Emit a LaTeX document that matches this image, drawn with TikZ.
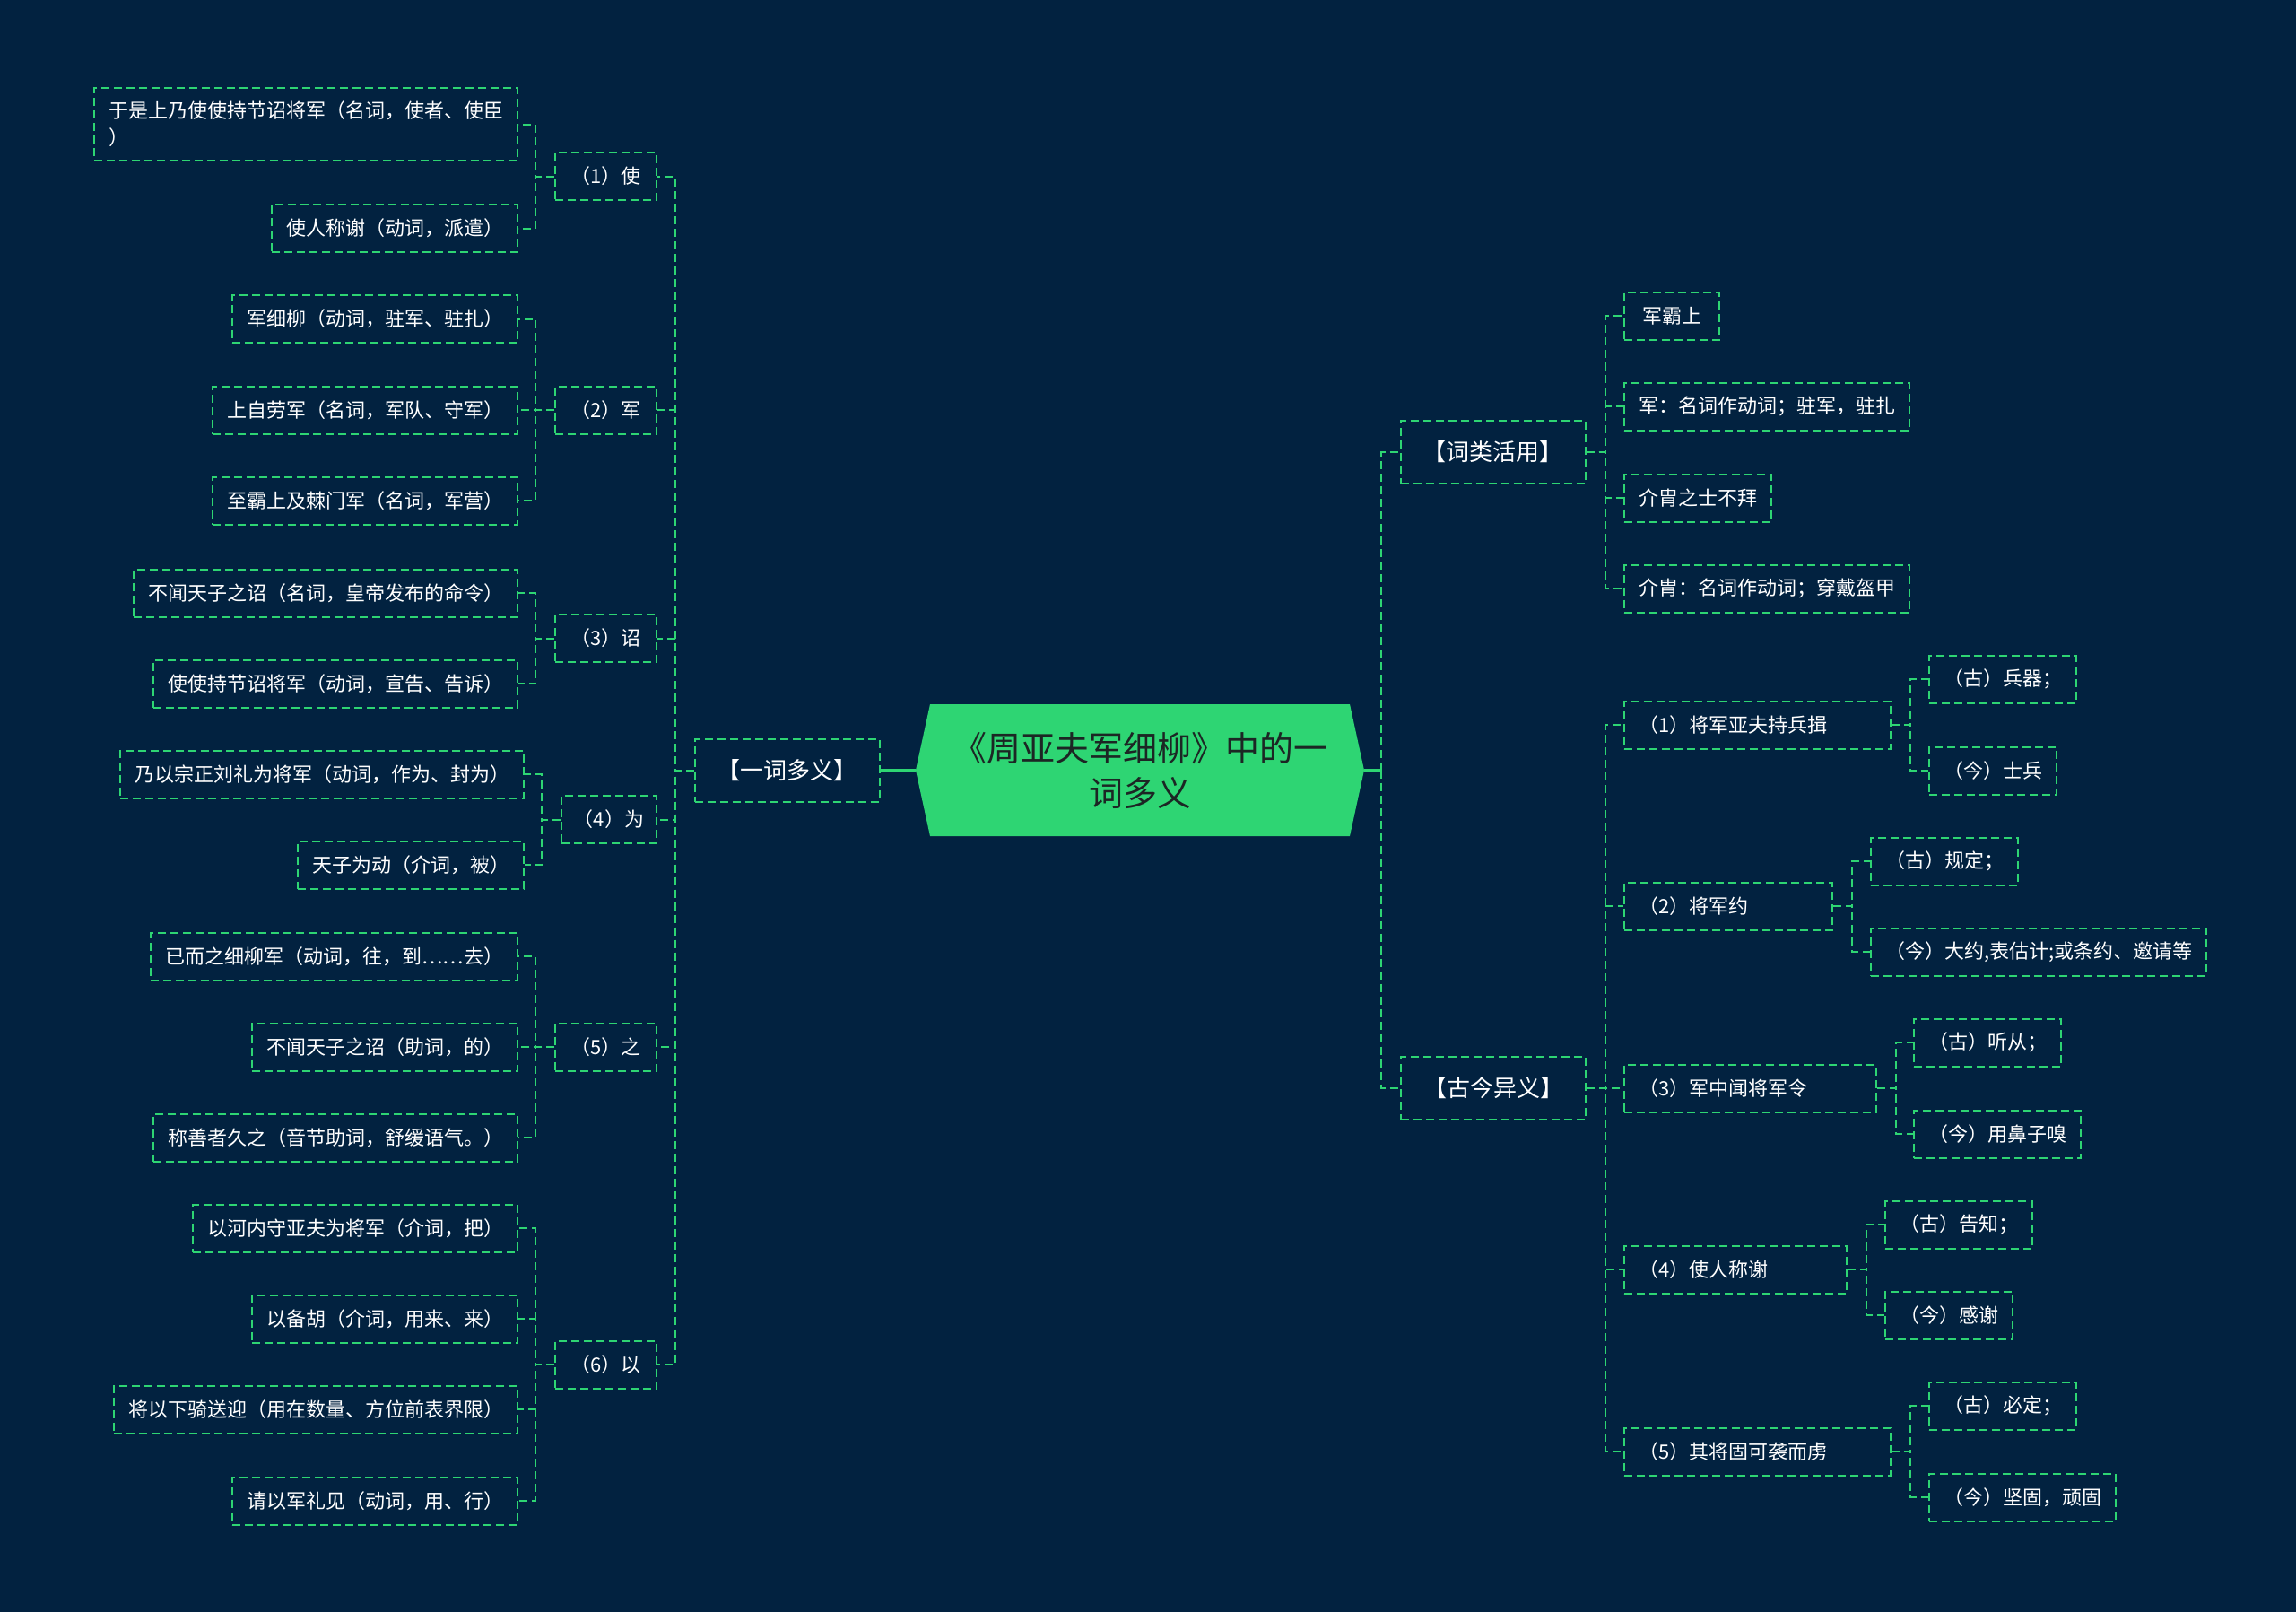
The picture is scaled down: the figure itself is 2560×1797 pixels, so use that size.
\documentclass[tikz,border=0pt]{standalone}
\usepackage{fontspec}
\setmainfont{Noto Sans CJK SC}
\usetikzlibrary{calc}
\definecolor{bg}{RGB}{2,34,64}
\definecolor{lg}{RGB}{46,213,115}
\definecolor{rootfg}{RGB}{28,38,36}
\begin{document}
\begin{tikzpicture}[x=1pt,y=-1pt,
  box/.style={draw=lg, line width=2pt, dash pattern=on 9pt off 5pt, text=white, inner ysep=0pt},
  leaf/.style={box, font=\fontsize{22}{30}\selectfont, inner xsep=16pt, minimum height=53pt},
  mid/.style={box, font=\fontsize{22}{30}\selectfont, inner xsep=12.5pt, minimum height=53pt, minimum width=113pt},
  head/.style={box, font=\fontsize{26}{32}\selectfont, inner xsep=25pt, minimum height=70pt},
  conn/.style={draw=lg, line width=2pt, dash pattern=on 9pt off 5pt},
  rootline/.style={draw=lg, line width=3pt},
]
\fill[bg] (0,0) rectangle (2560,1797);
\useasboundingbox (0,0) rectangle (2560,1797);

% root
\fill[lg] (1021,858.5) -- (1037,785) -- (1505,785) -- (1521,858.5) -- (1505,932) -- (1037,932) -- cycle;
\node[font=\fontsize{38}{50}\selectfont, text=rootfg, align=center, minimum width=500pt, minimum height=147pt, inner sep=0pt] (root) at (1271,858.5) {《周亚夫军细柳》中的一\\词多义};

% ---------- left: 一词多义 ----------
\node[head] (yc) at (877.5,858.5) {【一词多义】};

\node[mid, anchor=east] (m1) at (733,196.5) {（1）使};
\node[mid, anchor=east] (m2) at (733,457) {（2）军};
\node[mid, anchor=east] (m3) at (733,711.5) {（3）诏};
\node[mid, anchor=east, inner xsep=9pt, minimum width=106pt] (m4) at (733,913.5) {（4）为};
\node[mid, anchor=east] (m5) at (733,1167) {（5）之};
\node[mid, anchor=east] (m6) at (733,1521) {（6）以};

\node[leaf, anchor=east, align=left, minimum height=81pt] (l1) at (578,138.5) {于是上乃使使持节诏将军（名词，使者、使臣\\）};
\node[leaf, anchor=east] (l2) at (578,254.5) {使人称谢（动词，派遣）};
\node[leaf, anchor=east] (l3) at (578,355.5) {军细柳（动词，驻军、驻扎）};
\node[leaf, anchor=east] (l4) at (578,457) {上自劳军（名词，军队、守军）};
\node[leaf, anchor=east] (l5) at (578,558) {至霸上及棘门军（名词，军营）};
\node[leaf, anchor=east] (l6) at (578,661) {不闻天子之诏（名词，皇帝发布的命令）};
\node[leaf, anchor=east] (l7) at (578,762) {使使持节诏将军（动词，宣告、告诉）};
\node[leaf, anchor=east] (l8) at (585,863) {乃以宗正刘礼为将军（动词，作为、封为）};
\node[leaf, anchor=east] (l9) at (585,964) {天子为动（介词，被）};
\node[leaf, anchor=east] (l10) at (578,1066) {已而之细柳军（动词，往，到……去）};
\node[leaf, anchor=east] (l11) at (578,1167) {不闻天子之诏（助词，的）};
\node[leaf, anchor=east] (l12) at (578,1268) {称善者久之（音节助词，舒缓语气。）};
\node[leaf, anchor=east] (l13) at (578,1369) {以河内守亚夫为将军（介词，把）};
\node[leaf, anchor=east] (l14) at (578,1470) {以备胡（介词，用来、来）};
\node[leaf, anchor=east] (l15) at (578,1571) {将以下骑送迎（用在数量、方位前表界限）};
\node[leaf, anchor=east] (l16) at (578,1673) {请以军礼见（动词，用、行）};

% ---------- right ----------
\coordinate (rj) at (1540,858.5);
\node[head] (cl) at (1664.5,504) {【词类活用】};
\node[head] (gj) at (1665,1213) {【古今异义】};

\node[leaf, anchor=west, minimum width=106pt, align=left] (c1) at (1810,352) {军霸上};
\node[leaf, anchor=west] (c2) at (1810,453) {军：名词作动词；驻军，驻扎};
\node[leaf, anchor=west] (c3) at (1810,555) {介胄之士不拜};
\node[leaf, anchor=west] (c4) at (1810,656) {介胄：名词作动词；穿戴盔甲};

\node[leaf, anchor=west, text width=265pt, align=left] (g1) at (1810,808) {（1）将军亚夫持兵揖};
\node[leaf, anchor=west, text width=200pt, align=left] (g2) at (1810,1010) {（2）将军约};
\node[leaf, anchor=west, text width=249pt, align=left] (g3) at (1810,1213) {（3）军中闻将军令};
\node[leaf, anchor=west, text width=216pt, align=left] (g4) at (1810,1415) {（4）使人称谢};
\node[leaf, anchor=west, text width=265pt, align=left] (g5) at (1810,1618) {（5）其将固可袭而虏};

\node[leaf, anchor=west] (g1a) at (2150,757) {（古）兵器；};
\node[leaf, anchor=west] (g1b) at (2150,859) {（今）士兵};
\node[leaf, anchor=west] (g2a) at (2085,960) {（古）规定；};
\node[leaf, anchor=west] (g2b) at (2085,1061) {（今）大约,表估计;或条约、邀请等};
\node[leaf, anchor=west] (g3a) at (2133,1162) {（古）听从；};
\node[leaf, anchor=west] (g3b) at (2133,1264) {（今）用鼻子嗅};
\node[leaf, anchor=west] (g4a) at (2101,1365) {（古）告知；};
\node[leaf, anchor=west] (g4b) at (2101,1466) {（今）感谢};
\node[leaf, anchor=west] (g5a) at (2150,1567) {（古）必定；};
\node[leaf, anchor=west] (g5b) at (2150,1669) {（今）坚固，顽固};

% ---------- connectors ----------
\draw[rootline] (root.west) -- (yc.east);
\draw[rootline] (root.east) -- (rj);

\foreach \m in {m1,m2,m3,m4,m5,m6}
  \draw[conn] (yc.west) -- ++(-21,0) |- (\m.east);
\foreach \p/\c in {m1/l1,m1/l2,m2/l3,m2/l4,m2/l5,m3/l6,m3/l7,m4/l8,m4/l9,m5/l10,m5/l11,m5/l12,m6/l13,m6/l14,m6/l15,m6/l16}
  \draw[conn] (\p.west) -- ++(-21,0) |- (\c.east);

\draw[conn] (rj) |- (cl.west);
\draw[conn] (rj) |- (gj.west);
\foreach \c in {c1,c2,c3,c4}
  \draw[conn] (cl.east) -- ++(21,0) |- (\c.west);
\foreach \c in {g1,g2,g3,g4,g5}
  \draw[conn] (gj.east) -- ++(21,0) |- (\c.west);
\foreach \p/\c in {g1/g1a,g1/g1b,g2/g2a,g2/g2b,g3/g3a,g3/g3b,g4/g4a,g4/g4b,g5/g5a,g5/g5b}
  \draw[conn] (\p.east) -- ++(21,0) |- (\c.west);
\end{tikzpicture}
\end{document}
